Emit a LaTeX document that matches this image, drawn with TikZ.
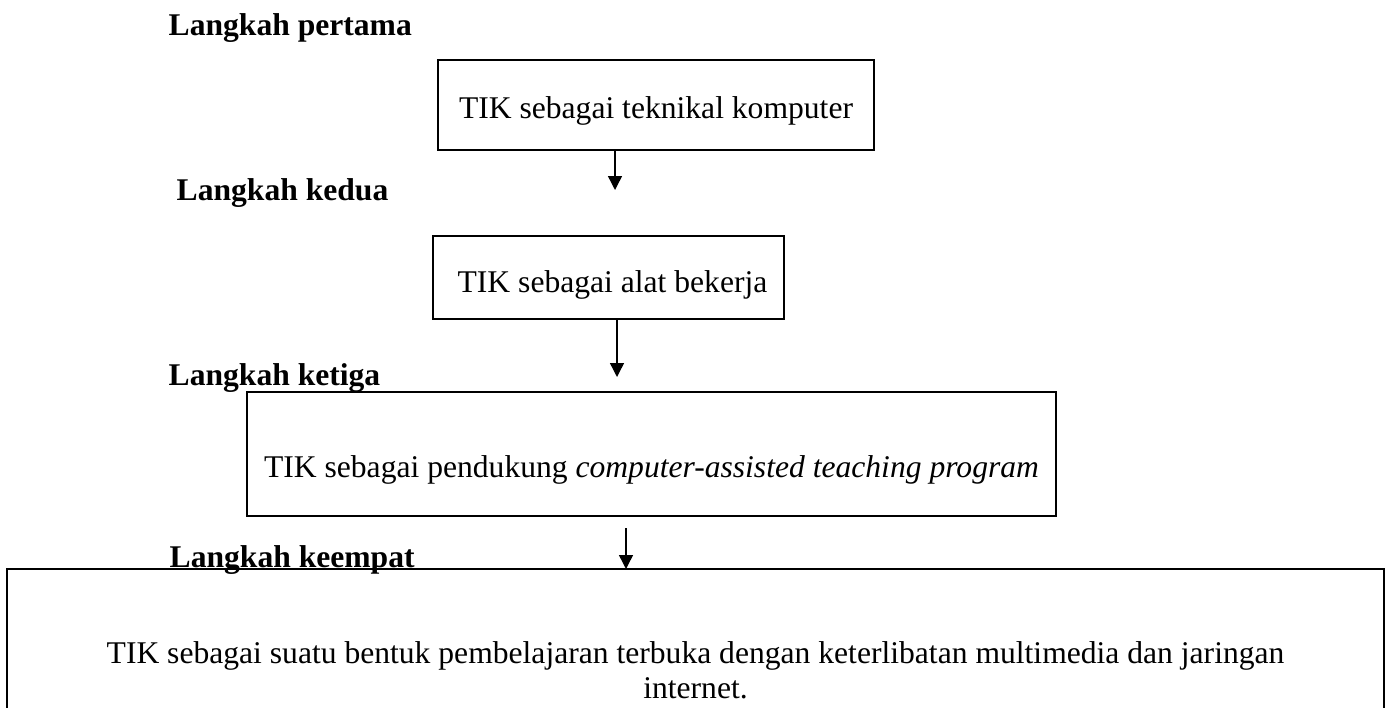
\documentclass[tikz,border=0pt]{standalone}
\usepackage{fontspec}
\setmainfont{Liberation Serif}
\usepackage{tikz}
\usetikzlibrary{arrows.meta}

\newcommand{\stepfont}{\fontsize{15.8}{17.5}\selectfont}

\tikzset{
  stepbox/.style={draw,line width=1pt,inner sep=0pt,outer sep=0pt,align=flush center,font=\stepfont},
  steplabel/.style={anchor=base west,inner sep=0pt,font=\stepfont\bfseries},
  >={Triangle[length=7pt,width=7pt]}
}

\begin{document}
\begin{tikzpicture}[x=0.5pt,y=-0.5pt,line width=0.7pt]
  \useasboundingbox (0,0) rectangle (1386,707);
  \clip (0,0) rectangle (1386,707);
  % langkah
  \node[steplabel] (lkh1) at (168,35) {Langkah pertama};
  \node[steplabel] (lkh2) at (176,200) {Langkah kedua};
  \node[steplabel] (lkh3) at (168,385) {Langkah ketiga};
  \node[steplabel] (lkh4) at (169,567) {Langkah keempat};
  % kotak
  \node[stepbox,anchor=base,minimum width=218pt,text height=29pt,text depth=16pt] (box1) at (656,118) {TIK sebagai teknikal komputer};
  \node[stepbox,anchor=base,minimum width=175.5pt,text height=28pt,text depth=13.5pt] (box2) at (608.5,292) {\hspace{4pt}TIK sebagai alat bekerja};
  \node[stepbox,anchor=base,minimum width=404.5pt,text height=42.5pt,text depth=19.5pt] (box3) at (651.5,477) {TIK sebagai pendukung \textit{computer-assisted teaching program}};
  \node[stepbox,line width=0.8pt,anchor=north,minimum width=688.5pt,text width=620pt,inner ysep=36.2pt] (box4) at (695.5,569) {TIK sebagai suatu bentuk pembelajaran terbuka dengan keterlibatan multimedia dan jaringan internet.};
  % panah
  \coordinate (tip1) at (615,190);
  \coordinate (tip2) at (617,377);
  \coordinate (tail3) at (626,528);
  \draw[->] (box1.south -| tip1) -- (tip1);
  \draw[->] (box2.south -| tip2) -- (tip2);
  \draw[->] (tail3) -- (tail3 |- box4.north);
\end{tikzpicture}
\end{document}
